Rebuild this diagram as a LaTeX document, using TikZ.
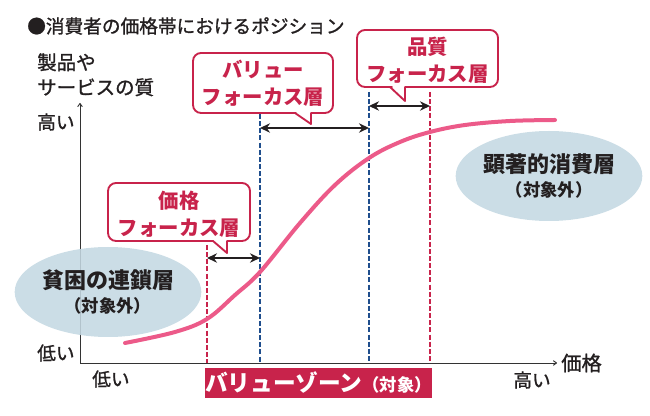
\documentclass[tikz,border=0pt]{standalone}
\usepackage{fontspec}
\setmainfont{Noto Sans CJK JP}
\newfontfamily\medfont{Noto Sans CJK JP}[FakeBold=1.2]
\usetikzlibrary{arrows.meta,shapes.geometric}
\definecolor{crim}{HTML}{C8234B}
\definecolor{pinkc}{HTML}{EC5A89}
\definecolor{blu}{HTML}{1F4E8D}
\definecolor{ellc}{HTML}{C4D8E2}
\definecolor{txt}{HTML}{231F20}
\definecolor{axc}{HTML}{333333}
\tikzset{
  lbl/.style={inner sep=0, text=txt, font=\medfont\fontsize{14}{18}\selectfont},
  boxtxt/.style={inner sep=0, text=crim, align=center, font=\bfseries\fontsize{15.3}{20}\selectfont},
  callout/.style={draw=crim, line width=1.4pt, fill=white, line join=round},
  reddash/.style={draw=crim, line width=1.75pt, dash pattern=on 3.75pt off 1.6pt},
  bluedash/.style={draw=blu, line width=1.75pt, dash pattern=on 3.75pt off 1.6pt},
  dblarr/.style={{Stealth[length=7.5pt,width=7pt]}-{Stealth[length=7.5pt,width=7pt]}, line width=2.1pt, draw=txt},
  axis/.style={draw=axc, line width=0.7pt, -{To[length=3pt,width=4pt]}},
  zone/.style={ellipse, fill=ellc, fill opacity=0.88, text opacity=1, text=txt, inner sep=0,
    minimum width=127.5pt, minimum height=67.5pt, align=center,
    font=\bfseries\fontsize{16.5}{19}\selectfont},
  curve/.style={draw=pinkc, line width=3pt, line cap=round}
}
\begin{document}
\begin{tikzpicture}[x=0.75pt,y=-0.75pt]
\useasboundingbox (0,0) rectangle (650,416);
% title
\node[lbl, anchor=west] (title) at (27,26) {●消費者の価格帯におけるポジション};
% axis labels
\node[lbl, anchor=north west, align=left, font=\medfont\fontsize{14.6}{18.75}\selectfont] (ylab) at (37,53) {製品や\\サービスの質};
\node[lbl, anchor=west] (yhigh) at (37,122) {高い};
\node[lbl, anchor=west] (ylow) at (37,353) {低い};
\node[lbl, anchor=west] (xlow) at (92,379) {低い};
\node[lbl, anchor=east] (xhigh) at (551,380) {高い};
\node[lbl, anchor=west, font=\medfont\fontsize{15.2}{18}\selectfont] (xlab) at (561,363) {価格};
% axes
\coordinate (O) at (80,363);
\coordinate (ytop) at (80,103);
\coordinate (xend) at (557,363);
\draw[axis] (O) -- (ytop);
\draw[axis] (O) -- (xend);
% ellipses
\node[zone] (poor) at (108,292) {貧困の連鎖層\\[-1pt]{\fontsize{13}{15}\selectfont （対象外）}};
\node[zone] (lux) at (549,176) {顕著的消費層\\[-1pt]{\fontsize{13}{15}\selectfont （対象外）}};
% dashed lines
\coordinate (r1t) at (207,245); \coordinate (r1b) at (207,363);
\coordinate (b1t) at (260,114); \coordinate (b1b) at (260,363);
\coordinate (b2t) at (369,92);  \coordinate (b2b) at (369,363);
\coordinate (r2t) at (430,92);  \coordinate (r2b) at (430,363);
\draw[reddash] (r1t) -- (r1b);
\draw[bluedash] (b1t) -- (b1b);
\draw[bluedash] (b2t) -- (b2b);
\draw[reddash] (r2t) -- (r2b);
% curve
\draw[curve] plot[smooth, tension=0.6] coordinates {(125,343) (175,332) (207,319) (235,295) (260,272) (300,223) (335,185) (369,158) (400,142) (430,132) (465,125) (510,121) (555,120)};
% double arrows
\coordinate (pa1) at (207,258); \coordinate (pa2) at (260,258);
\coordinate (va1) at (260,128); \coordinate (va2) at (369,128);
\coordinate (qa1) at (369,106); \coordinate (qa2) at (430,106);
\draw[dblarr] (pa1) -- (pa2);
\draw[dblarr] (va1) -- (va2);
\draw[dblarr] (qa1) -- (qa2);
% callouts
\draw[callout] (240,241) [rounded corners=6] -- (250,241) -- (250,183) -- (108,183) -- (108,241) -- (205,241) [sharp corners] -- (213,241) -- (227,253) -- (227,241) -- cycle;
\node[boxtxt] (pricebox) at (179,214) {価格\\フォーカス層};
\draw[callout] (320,113) [rounded corners=6] -- (333,113) -- (333,53) -- (193,53) -- (193,113) -- (288,113) [sharp corners] -- (295,113) -- (311,124) -- (311,113) -- cycle;
\node[boxtxt] (valuebox) at (263,83.5) {バリュー\\フォーカス層};
\draw[callout] (420,87) [rounded corners=6] -- (498,87) -- (498,30) -- (357,30) -- (357,87) -- (384,87) [sharp corners] -- (390,87) -- (405,101) -- (405,87) -- cycle;
\node[boxtxt] (qualbox) at (427.5,60.5) {品質\\フォーカス層};
% banner
\node[fill=crim, text=white, inner sep=0, minimum width=168.75pt, minimum height=22.5pt, font=\bfseries\fontsize{17}{20}\selectfont] (zoneban) at (318.5,383) {バリューゾーン{\fontsize{13}{15}\selectfont （対象）}};
\end{tikzpicture}
\end{document}
